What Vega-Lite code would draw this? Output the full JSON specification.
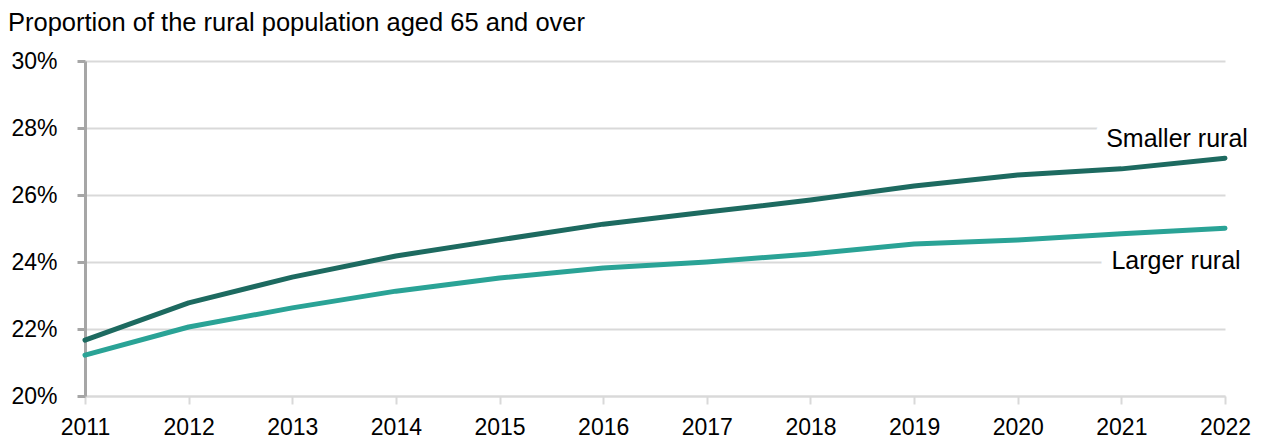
{
  "$schema": "https://vega.github.io/schema/vega-lite/v6.json",
  "width": 1140,
  "height": 335,
  "autosize": "none",
  "padding": {"left": 85, "top": 61, "right": 36, "bottom": 47},
  "background": "white",
  "config": {
    "font": "Liberation Sans",
    "view": {"stroke": null}
  },
  "title": {
    "text": "Proportion of the rural population aged 65 and over",
    "anchor": "start",
    "frame": "group",
    "dx": -77,
    "offset": -11,
    "baseline": "bottom",
    "fontSize": 25.5,
    "fontWeight": "normal",
    "color": "black",
    "font": "Liberation Sans"
  },
  "data": {
    "values": [
      {"series": "Smaller rural", "year": 2011, "value": 21.67},
      {"series": "Smaller rural", "year": 2012, "value": 22.78},
      {"series": "Smaller rural", "year": 2013, "value": 23.55},
      {"series": "Smaller rural", "year": 2014, "value": 24.18},
      {"series": "Smaller rural", "year": 2015, "value": 24.66},
      {"series": "Smaller rural", "year": 2016, "value": 25.13},
      {"series": "Smaller rural", "year": 2017, "value": 25.49},
      {"series": "Smaller rural", "year": 2018, "value": 25.85},
      {"series": "Smaller rural", "year": 2019, "value": 26.27},
      {"series": "Smaller rural", "year": 2020, "value": 26.60},
      {"series": "Smaller rural", "year": 2021, "value": 26.78},
      {"series": "Smaller rural", "year": 2022, "value": 27.10},
      {"series": "Larger rural", "year": 2011, "value": 21.22},
      {"series": "Larger rural", "year": 2012, "value": 22.06},
      {"series": "Larger rural", "year": 2013, "value": 22.63},
      {"series": "Larger rural", "year": 2014, "value": 23.13},
      {"series": "Larger rural", "year": 2015, "value": 23.52},
      {"series": "Larger rural", "year": 2016, "value": 23.82},
      {"series": "Larger rural", "year": 2017, "value": 24.00},
      {"series": "Larger rural", "year": 2018, "value": 24.24},
      {"series": "Larger rural", "year": 2019, "value": 24.54},
      {"series": "Larger rural", "year": 2020, "value": 24.66},
      {"series": "Larger rural", "year": 2021, "value": 24.84},
      {"series": "Larger rural", "year": 2022, "value": 25.01}
    ]
  },
  "encoding": {
    "x": {
      "field": "year",
      "type": "quantitative",
      "scale": {"domain": [2011, 2022], "nice": false, "zero": false},
      "axis": {
        "title": null,
        "values": [2011, 2012, 2013, 2014, 2015, 2016, 2017, 2018, 2019, 2020, 2021, 2022],
        "format": "d",
        "grid": false,
        "labelFontSize": 23,
        "labelColor": "black",
        "labelFont": "Liberation Sans",
        "labelPadding": 12,
        "labelFlush": false,
        "labelOverlap": false,
        "domainColor": "#d9d9d9",
        "domainWidth": 2,
        "tickColor": "#d9d9d9",
        "tickWidth": 2,
        "tickSize": 8
      }
    },
    "y": {
      "field": "value",
      "type": "quantitative",
      "scale": {"domain": [20, 30], "nice": false, "zero": false},
      "axis": {
        "title": null,
        "values": [20, 22, 24, 26, 28, 30],
        "labelExpr": "datum.value + '%'",
        "grid": true,
        "gridColor": "#d9d9d9",
        "gridWidth": 2,
        "labelFontSize": 23,
        "labelColor": "black",
        "labelFont": "Liberation Sans",
        "labelPadding": 20,
        "labelFlush": false,
        "domainColor": "#a6a6a6",
        "domainWidth": 3,
        "tickColor": "#a6a6a6",
        "tickWidth": 3,
        "tickSize": 8
      }
    },
    "color": {
      "field": "series",
      "type": "nominal",
      "scale": {"domain": ["Smaller rural", "Larger rural"], "range": ["#1d6a60", "#2aa396"]},
      "legend": null
    }
  },
  "layer": [
    {
      "transform": [{"filter": "datum.year == 2022 && datum.series == 'Smaller rural'"}],
      "mark": {"type": "text", "dx": -48, "dy": -19, "fontSize": 25, "stroke": "white", "strokeWidth": 24, "strokeJoin": "round", "fill": "white", "align": "center", "baseline": "middle"},
      "encoding": {"text": {"field": "series"}, "color": {"value": "white"}}
    },
    {
      "transform": [{"filter": "datum.year == 2022 && datum.series == 'Larger rural'"}],
      "mark": {"type": "text", "dx": -49, "dy": 33, "fontSize": 25, "stroke": "white", "strokeWidth": 24, "strokeJoin": "round", "fill": "white", "align": "center", "baseline": "middle"},
      "encoding": {"text": {"field": "series"}, "color": {"value": "white"}}
    },
    {
      "mark": {"type": "line", "strokeWidth": 5, "strokeCap": "round", "strokeJoin": "round"},
      "encoding": {"detail": {"field": "series"}}
    },
    {
      "transform": [{"filter": "datum.year == 2022 && datum.series == 'Smaller rural'"}],
      "mark": {"type": "text", "dx": -48, "dy": -19, "fontSize": 25, "align": "center", "baseline": "middle"},
      "encoding": {"text": {"field": "series"}, "color": {"value": "black"}}
    },
    {
      "transform": [{"filter": "datum.year == 2022 && datum.series == 'Larger rural'"}],
      "mark": {"type": "text", "dx": -49, "dy": 33, "fontSize": 25, "align": "center", "baseline": "middle"},
      "encoding": {"text": {"field": "series"}, "color": {"value": "black"}}
    }
  ]
}
